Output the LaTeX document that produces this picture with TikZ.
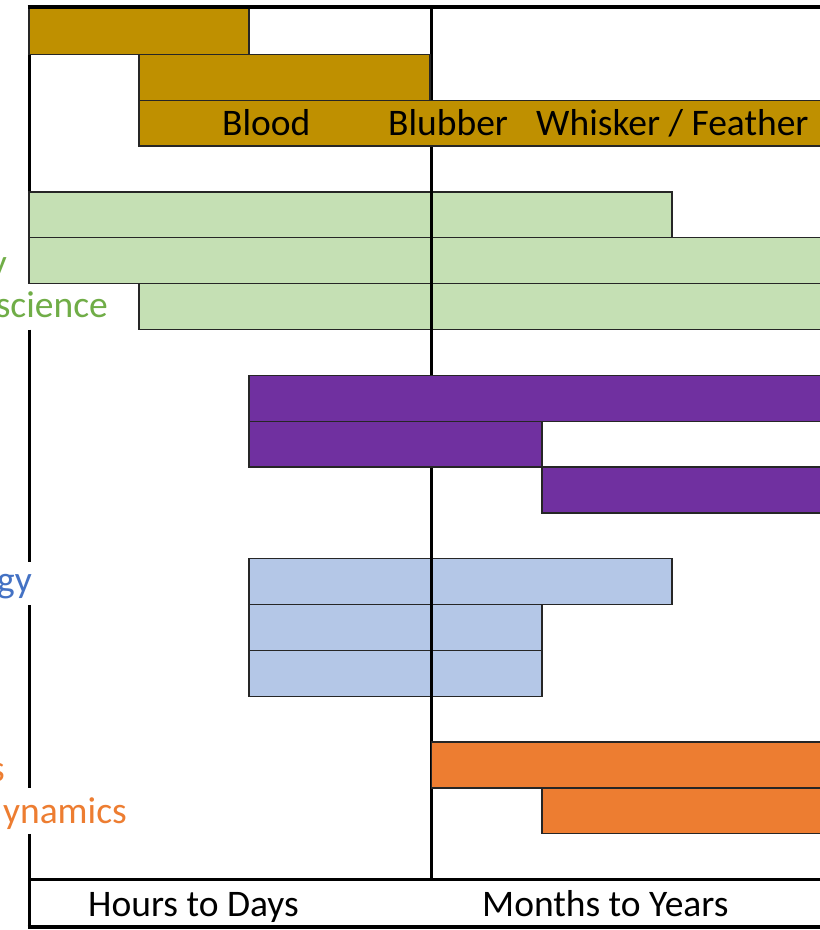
\documentclass[tikz,border=0pt]{standalone}
\usepackage{fontspec}
\setmainfont{Carlito}
\definecolor{goldbar}{HTML}{BF9000}
\definecolor{greenbar}{HTML}{C5E0B4}
\definecolor{purplebar}{HTML}{7030A0}
\definecolor{bluebar}{HTML}{B4C7E7}
\definecolor{orangebar}{HTML}{ED7D31}
\definecolor{greentext}{HTML}{70AD47}
\definecolor{bluetext}{HTML}{4472C4}
\definecolor{orangetext}{HTML}{ED7D31}
\begin{document}
\begin{tikzpicture}[x=1pt,y=-1pt,
  bar/.style={draw=black!85, line width=1.3pt},
  axis/.style={line width=3pt, black},
  lbl/.style={font=\fontsize{37.5}{44}\selectfont, inner sep=0pt}]
\useasboundingbox (0,0) rectangle (820,930);
\fill[white] (0,0) rectangle (820,930);

% left axis line, broken behind the side labels
\draw[axis] (29,5) -- (29,283.6);
\draw[axis] (29,329.5) -- (29,562);
\draw[axis] (29,605) -- (29,788);
\draw[axis] (29,833.8) -- (29,928.5);

% side labels (cut at the left edge)
\node[lbl, text=greentext, anchor=base east] (lg1) at (7,275) {y};
\node[lbl, text=greentext, anchor=base east] (lg2) at (108,317) {science};
\node[lbl, text=bluetext, anchor=base east] (lb1) at (32,592) {gy};
\node[lbl, text=orangetext, anchor=base east] (lo1) at (5,781) {s};
\node[lbl, text=orangetext, anchor=base east] (lo2) at (127,823) {ynamics};

% light bars (the middle line shows over them)
\draw[bar, fill=greenbar] (29,191.9) rectangle (672,237.8);
\draw[bar, fill=greenbar] (29,237.8) rectangle (823,283.6);
\draw[bar, fill=greenbar] (139,283.6) rectangle (823,329.5);

\draw[bar, fill=bluebar] (249,558.7) rectangle (672,604.6);
\draw[bar, fill=bluebar] (249,604.6) rectangle (542,650.4);
\draw[bar, fill=bluebar] (249,650.4) rectangle (542,696.3);

% middle divider
\draw[axis] (431.5,7) -- (431.5,879.7);

% solid bars (over the middle line)
\draw[bar, fill=goldbar] (29,8.5) rectangle (249,54.3);
\draw[bar, fill=goldbar] (139,54.3) rectangle (430,100.2);
\draw[bar, fill=goldbar] (139,100.2) rectangle (823,146);

\draw[bar, fill=purplebar] (249,375.3) rectangle (823,421.2);
\draw[bar, fill=purplebar] (249,421.2) rectangle (542,467);
\draw[bar, fill=purplebar] (542,467) rectangle (823,512.9);

\draw[bar, fill=orangebar] (431.5,742.1) rectangle (823,788);
\draw[bar, fill=orangebar] (542,788) rectangle (823,833.8);

% frame lines
\draw[line width=3.5pt] (27.5,7) -- (820,7);
\draw[line width=2.5pt] (29,879.7) -- (820,879.7);
\draw[line width=3.5pt] (27.5,927) -- (820,927);

% texts in the gold bar
\node[lbl, anchor=base west] (blood) at (222,135) {Blood};
\node[lbl, anchor=base west] (blubber) at (388,135) {Blubber};
\node[lbl, anchor=base west] (whisker) at (536,135) {Whisker / Feather};

% time axis
\node[lbl, anchor=base west] (hours) at (88,916) {Hours to Days};
\node[lbl, anchor=base west] (months) at (482,916) {Months to Years};
\end{tikzpicture}
\end{document}
